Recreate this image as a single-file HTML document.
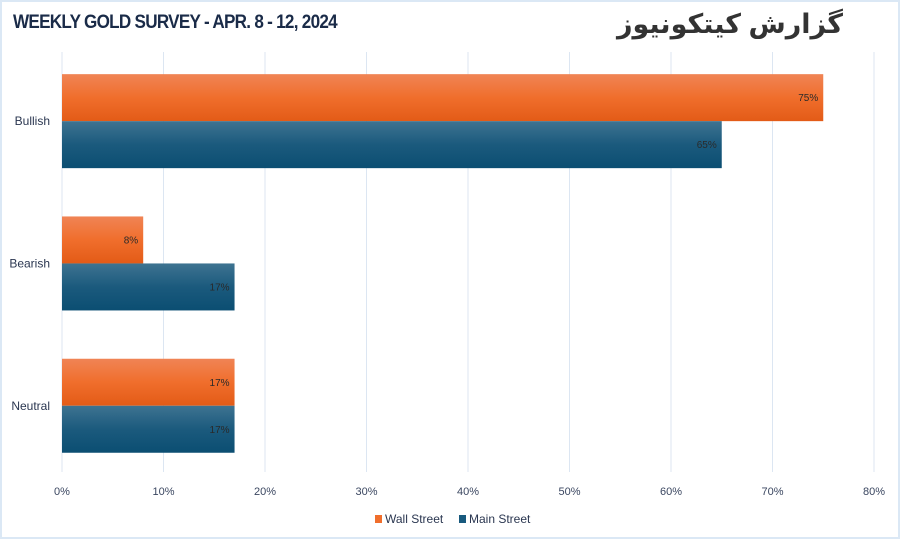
<!DOCTYPE html>
<html><head><meta charset="utf-8"><style>
body{margin:0;background:#fff;}
#wrap{position:relative;width:896px;height:535px;border:2px solid #dbe8f5;overflow:hidden;font-family:"Liberation Sans",sans-serif;}
#title{position:absolute;left:11px;top:10px;font-size:19px;font-weight:bold;color:#1a2b48;letter-spacing:-0.8px;transform:scaleX(0.9);transform-origin:left;}
#brand{position:absolute;right:55px;top:7px;font-size:27px;font-weight:bold;color:#333;font-family:"Liberation Sans","Noto Sans CJK SC","DejaVu Sans",sans-serif;}
</style></head><body>
<div id="wrap">
<div id="title">WEEKLY GOLD SURVEY - APR. 8 - 12, 2024</div>
<div id="brand" dir="rtl">گزارش کیتکونیوز</div>
<svg id="chart" width="896" height="535" style="position:absolute;left:0;top:0">
<defs>
<linearGradient id="gO" x1="0" y1="0" x2="0" y2="1"><stop offset="0" stop-color="#f08455"/><stop offset="0.5" stop-color="#f06e2c"/><stop offset="1" stop-color="#e35b17"/></linearGradient>
<linearGradient id="gB" x1="0" y1="0" x2="0" y2="1"><stop offset="0" stop-color="#3e7391"/><stop offset="0.5" stop-color="#1b5a7d"/><stop offset="1" stop-color="#0b4e72"/></linearGradient>
</defs>
</svg>
</div>
<script>
const categories=["Bullish","Bearish","Neutral"];
const wallStreet=[75,8,17];
const mainStreet=[65,17,17];
const ticks=[0,10,20,30,40,50,60,70,80];
const svg=document.getElementById('chart');
const NS='http://www.w3.org/2000/svg';
const x0=60,x1=872;
const xs=v=>x0+(v/80)*(x1-x0);
const bandTop=48,bandH=142.3;
function mk(t,a){const e=document.createElementNS(NS,t);for(const k in a)e.setAttribute(k,a[k]);svg.appendChild(e);return e;}
ticks.forEach(t=>{
 const l=mk('line',{x1:xs(t),x2:xs(t),y1:50,y2:470,stroke:'#dce6f2','stroke-width':1});
 
 
 const tx=mk('text',{x:xs(t),y:493,'text-anchor':'middle','font-size':11,fill:'#3a4660'});
 tx.textContent=t+'%';
 
 
});
categories.forEach((c,i)=>{
 const cy=bandTop+bandH*i+bandH/2;
 const lb=mk('text',{x:48,y:cy+4,'text-anchor':'end','font-size':12,fill:'#2a3650'});
 lb.textContent=c;
 
 
 [[wallStreet,'url(#gO)',cy-47,'wall'],[mainStreet,'url(#gB)',cy,'main']].forEach(([arr,f,y,n])=>{
  const r=mk('rect',{x:x0,y:y,width:xs(arr[i])-x0,height:47,fill:f});
  
  
  const v=mk('text',{x:xs(arr[i])-5,y:y+27,'text-anchor':'end','font-size':10,fill:'#2a2a2a'});
  v.textContent=arr[i]+'%';
  
  
 });
});
const legend=[['Wall Street','#f06e2c',373],['Main Street','#185a7e',457]];
legend.forEach(([t,col,x])=>{
 const r=mk('rect',{x:x,y:513,width:7,height:8,fill:col});
 
 
 const tx=mk('text',{x:x+10,y:521,'font-size':12,fill:'#2a3650'});
 tx.textContent=t;
 
 
});
</script>
</body></html>
